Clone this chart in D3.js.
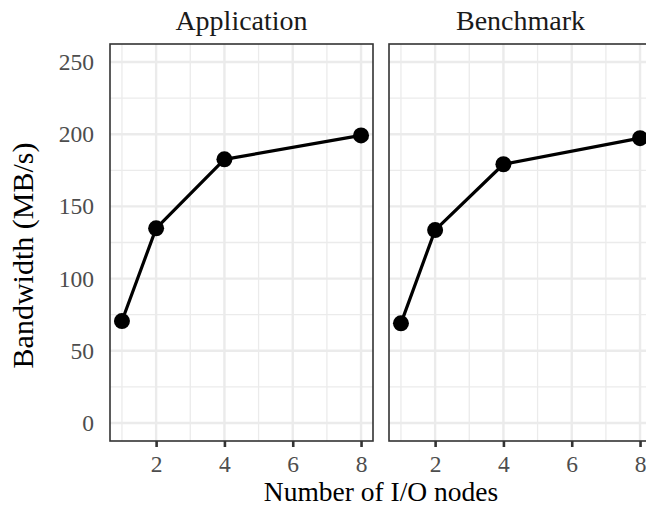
<!DOCTYPE html>
<html>
<head>
<meta charset="utf-8">
<script src="https://cdn.jsdelivr.net/npm/d3@7"></script>
<style>
  body { margin: 0; background: #fff; }
  svg { display: block; font-family: "Liberation Serif", "DejaVu Serif", serif; }
  .grid-major { stroke: #ebebeb; stroke-width: 2.4; }
  .grid-minor { stroke: #ebebeb; stroke-width: 1.3; }
  .strip-label { fill: #1a1a1a; font-size: 28px; }
  .axis-title { fill: #000; font-size: 27.5px; }
</style>
</head>
<body>
<div id="chart"></div>
<script>
// facets and values
const facets = ['Application', 'Benchmark'];
const ioNodes = [1, 2, 4, 8];
const applicationBw = [70.6, 134.8, 182.6, 199.2];
const benchmarkBw = [69.0, 133.6, 179.2, 197.3];
const xTicks = [2, 4, 6, 8];
const xMinor = [1, 3, 5, 7];
const yTicks = [0, 50, 100, 150, 200, 250];
const yMinor = [25, 75, 125, 175, 225];

const seriesByFacet = {
  Application: applicationBw,
  Benchmark: benchmarkBw
};

const width = 646, height = 508;
const margin = {top: 44, left: 110, bottom: 67};
const panelWidth = 263, panelGap = 16;
const panelHeight = height - margin.top - margin.bottom;

const svg = d3.select('#chart').append('svg')
    .attr('width', width)
    .attr('height', height);

// ggplot style: limits 0..250 and 1..8 with 5% expansion
const xScale = d3.scaleLinear()
    .domain([1 - 0.35, 8 + 0.35])
    .range([0, panelWidth]);

const yScale = d3.scaleLinear()
    .domain([-12.5, 262.5])
    .range([panelHeight, 0]);

const line = d3.line()
    .x(d => xScale(d.x))
    .y(d => yScale(d.y));

function styleTickText(axisG) {
  axisG.selectAll('.tick text')
      .style('fill', '#4d4d4d')
      .style('font-family', '"Liberation Serif", serif')
      .style('font-size', '23.5px');
}

facets.forEach((name, i) => {
  const g = svg.append('g')
      .attr('transform', `translate(${margin.left + i * (panelWidth + panelGap)},${margin.top})`);

  // grid
  g.selectAll('.gy-minor').data(yMinor).join('line')
      .attr('class', 'grid-minor')
      .attr('x1', 0).attr('x2', panelWidth)
      .attr('y1', d => yScale(d)).attr('y2', d => yScale(d));
  g.selectAll('.gx-minor').data(xMinor).join('line')
      .attr('class', 'grid-minor')
      .attr('y1', 0).attr('y2', panelHeight)
      .attr('x1', d => xScale(d)).attr('x2', d => xScale(d));
  g.selectAll('.gy-major').data(yTicks).join('line')
      .attr('class', 'grid-major')
      .attr('x1', 0).attr('x2', panelWidth)
      .attr('y1', d => yScale(d)).attr('y2', d => yScale(d));
  g.selectAll('.gx-major').data(xTicks).join('line')
      .attr('class', 'grid-major')
      .attr('y1', 0).attr('y2', panelHeight)
      .attr('x1', d => xScale(d)).attr('x2', d => xScale(d));

  // data
  const pts = ioNodes.map((x, j) => ({x: x, y: seriesByFacet[name][j]}));
  g.append('path')
      .datum(pts)
      .attr('fill', 'none')
      .attr('stroke', '#000')
      .attr('stroke-width', 3.2)
      .attr('stroke-linejoin', 'round')
      .attr('d', line);
  g.selectAll('.pt').data(pts).join('circle')
      .attr('cx', d => xScale(d.x))
      .attr('cy', d => yScale(d.y))
      .attr('r', 8)
      .attr('fill', '#000');

  // panel border
  g.append('rect')
      .attr('width', panelWidth)
      .attr('height', panelHeight)
      .attr('fill', 'none')
      .attr('stroke', '#333')
      .attr('stroke-width', 1.6);

  // x axis
  const xAxis = g.append('g')
      .attr('transform', `translate(0,${panelHeight})`)
      .call(d3.axisBottom(xScale).tickValues(xTicks).tickSize(6).tickPadding(8));
  xAxis.select('.domain').remove();
  xAxis.selectAll('.tick line').attr('stroke', '#333').attr('stroke-width', 2.6);
  styleTickText(xAxis);

  // y axis labels only on the first panel
  if (i === 0) {
    const yAxis = g.append('g')
        .call(d3.axisLeft(yScale).tickValues(yTicks).tickSize(0).tickPadding(16));
    yAxis.select('.domain').remove();
    styleTickText(yAxis);
  }

  // strip title
  g.append('text')
      .attr('class', 'strip-label')
      .attr('x', panelWidth / 2)
      .attr('y', -14)
      .attr('text-anchor', 'middle')
      .text(name);
});

// axis titles
svg.append('text')
    .attr('class', 'axis-title')
    .attr('x', margin.left + panelWidth + panelGap / 2)
    .attr('y', 501)
    .attr('text-anchor', 'middle')
    .text('Number of I/O nodes');

svg.append('text')
    .attr('class', 'axis-title')
    .style('font-size', '30px')
    .attr('transform', `translate(33,${margin.top + panelHeight / 2 + 13}) rotate(-90)`)
    .attr('text-anchor', 'middle')
    .text('Bandwidth (MB/s)');
</script>
</body>
</html>
